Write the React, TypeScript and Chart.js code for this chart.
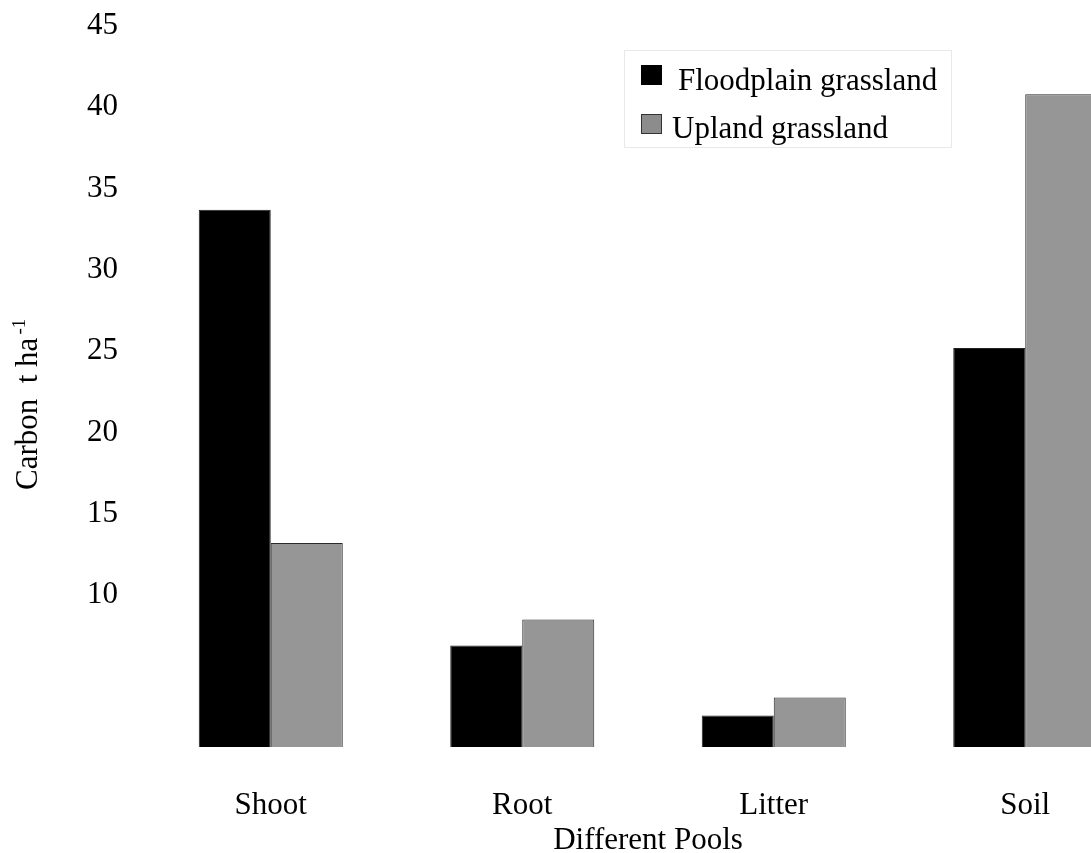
import React, { useEffect, useRef } from "react";
import { Chart, registerables } from "chart.js";

Chart.register(...registerables);

const categories = ["Shoot", "Root", "Litter", "Soil"];
const floodplain = [33.7, 6.9, 2.6, 25.2];
const upland = [13.2, 8.5, 3.7, 40.8];
const yTicks = [10, 15, 20, 25, 30, 35, 40, 45];
const seriesNames = ["Floodplain grassland", "Upland grassland"];

const FONT = "'Liberation Serif', 'Times New Roman', serif";

const overlayPlugin = {
  id: "overlay",
  afterDraw(chart: any) {
    const ctx = chart.ctx as CanvasRenderingContext2D;
    ctx.save();
    // legend box
    ctx.strokeStyle = "#e8e8e8";
    ctx.lineWidth = 1;
    ctx.strokeRect(624.5, 50.5, 327, 97);
    const ds = chart.data.datasets;
    ctx.fillStyle = "#000";
    ctx.fillRect(641, 65, 21, 20);
    ctx.fillStyle = "#8c8c8c";
    ctx.fillRect(641.5, 114.5, 20, 19);
    ctx.strokeStyle = "#333";
    ctx.strokeRect(641.5, 114.5, 20, 19);
    ctx.fillStyle = "#000";
    ctx.font = `31px ${FONT}`;
    ctx.textAlign = "left";
    ctx.textBaseline = "alphabetic";
    ctx.fillText(ds[0].label, 678, 90);
    ctx.fillText(ds[1].label, 672, 138);
    // y title with superscript
    ctx.translate(37, 490);
    ctx.rotate(-Math.PI / 2);
    const main = "Carbon  t ha";
    ctx.fillText(main, 0, 0);
    const w = ctx.measureText(main).width;
    ctx.font = `19px ${FONT}`;
    ctx.fillText("-1", w + 3, -12);
    ctx.restore();
  },
};

export default function App() {
  const ref = useRef<HTMLCanvasElement>(null);
  useEffect(() => {
    if (!ref.current) return;
    const chart = new Chart(ref.current, {
      type: "bar",
      data: {
        labels: categories,
        datasets: [
          {
            label: seriesNames[0],
            data: floodplain,
            backgroundColor: "#000000",
            borderColor: "#222222",
            borderWidth: 1,
            categoryPercentage: 0.5726,
            barPercentage: 1,
          },
          {
            label: seriesNames[1],
            data: upland,
            backgroundColor: "#969696",
            borderColor: "#2a2a2a",
            borderWidth: 1,
            categoryPercentage: 0.5726,
            barPercentage: 1,
          },
        ],
      },
      options: {
        responsive: false,
        animation: false,
        devicePixelRatio: 1,
        layout: { padding: { top: 26, right: 9, left: 0, bottom: 0 } },
        plugins: {
          legend: { display: false },
          tooltip: { enabled: false },
        },
        scales: {
          x: {
            grid: { display: false, drawTicks: false },
            border: { display: false },
            ticks: {
              color: "#000",
              font: { family: FONT, size: 31, lineHeight: 1.2 },
              padding: 40,
            },
            title: {
              display: true,
              text: "Different Pools",
              color: "#000",
              font: { family: FONT, size: 31, lineHeight: 1 },
              padding: { top: 0, bottom: -3 },
            },
            afterFit(scale: any) {
              scale.height = 106;
              scale.paddingLeft = 0;
              scale.paddingRight = 0;
            },
          },
          y: {
            min: 0.66,
            max: 45,
            grid: { display: false, drawTicks: false },
            border: { display: false },
            ticks: {
              color: "#000",
              font: { family: FONT, size: 31, lineHeight: 1.2 },
              padding: 27,
            },
            afterBuildTicks(scale: any) {
              scale.ticks = yTicks.map((v) => ({ value: v }));
            },
            afterFit(scale: any) {
              scale.width = 145;
              scale.paddingTop = 0;
              scale.paddingBottom = 0;
            },
          },
        },
      },
      plugins: [overlayPlugin],
    });
    return () => chart.destroy();
  }, []);
  return (
    <div
      style={{
        position: "absolute",
        left: 0,
        top: 0,
        width: 1091,
        height: 853,
        overflow: "hidden",
        background: "#fff",
      }}
    >
      <canvas ref={ref} width={1160} height={853} style={{ display: "block" }} />
    </div>
  );
}
